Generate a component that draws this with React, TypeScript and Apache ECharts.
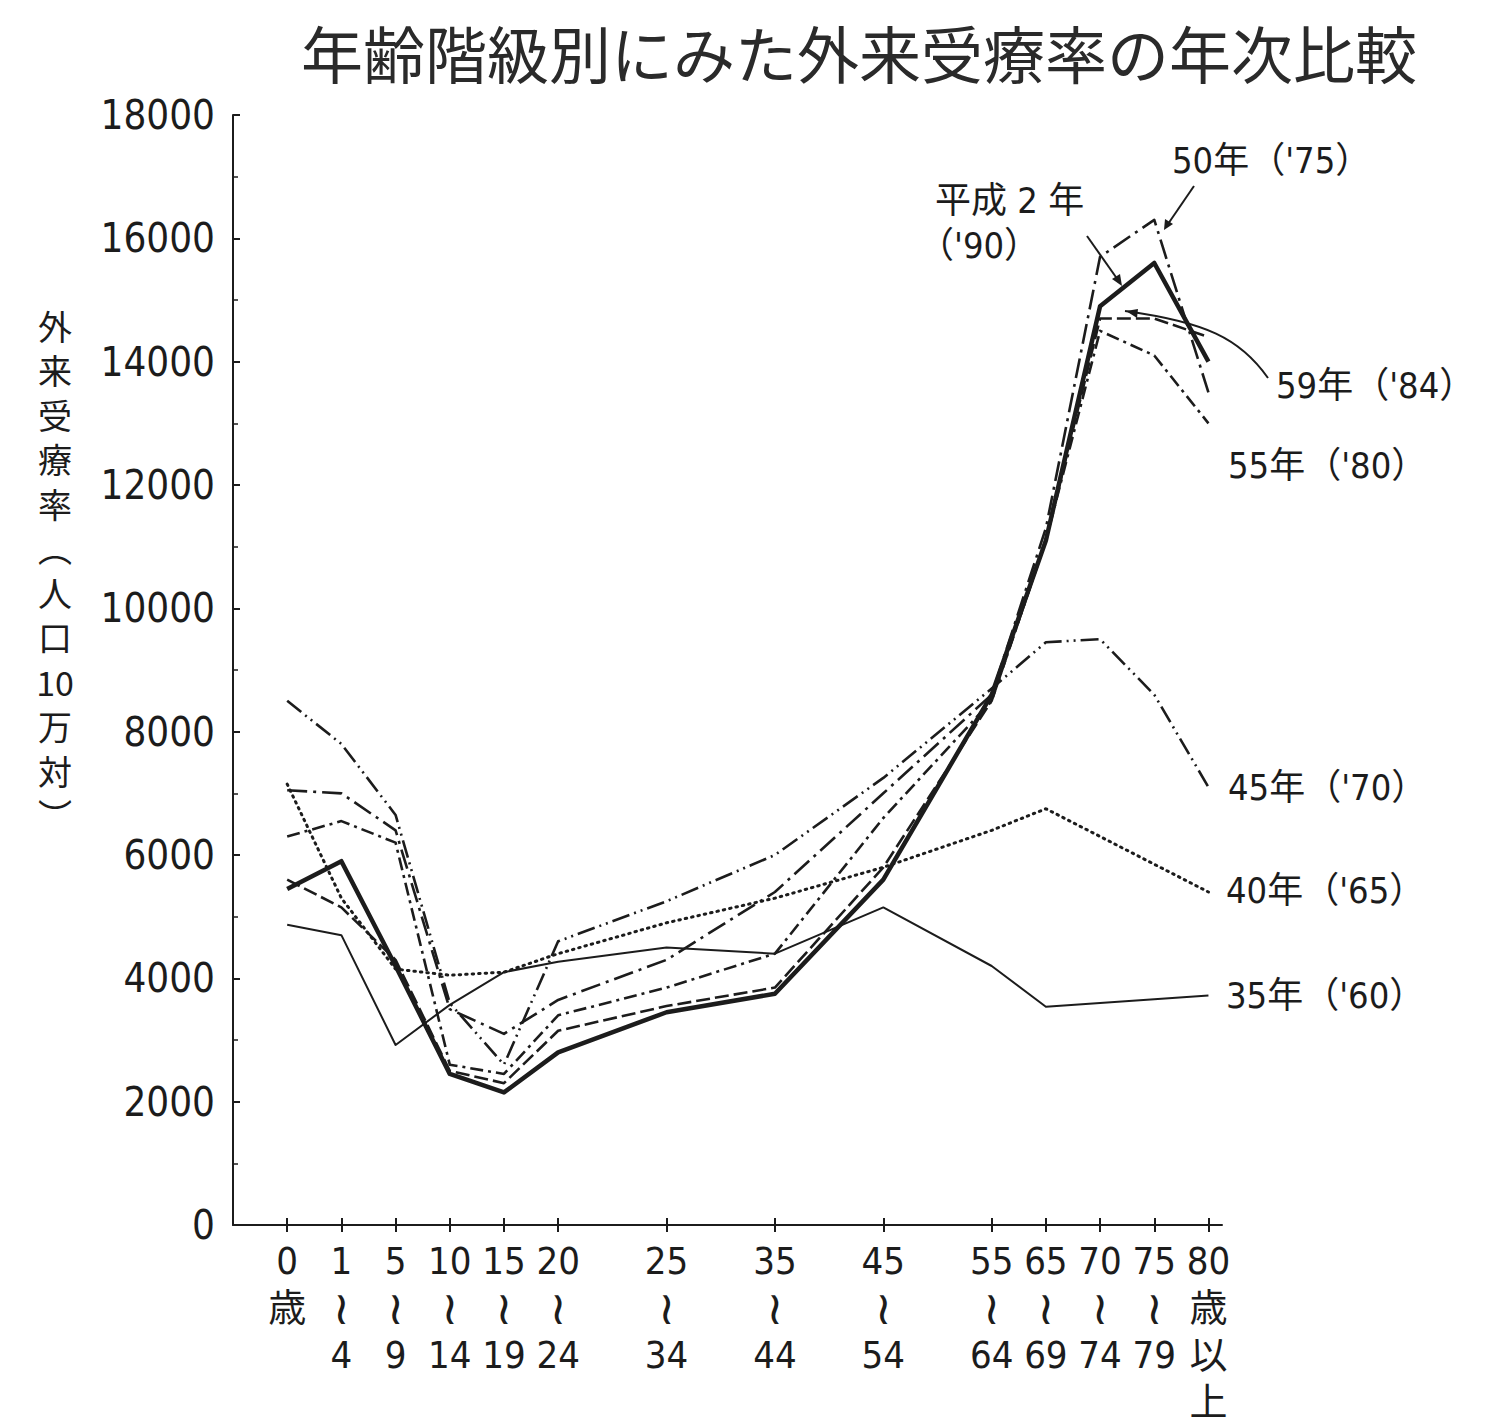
import React, { useEffect, useRef } from 'react';
import * as echarts from 'echarts';

// x positions (in age-group units) and their labels
const agePositions = [0, 1, 2, 3, 4, 5, 7, 9, 11, 13, 14, 15, 16, 17];
const ageLabels = [
  '0\n歳', '1\n≀\n4', '5\n≀\n9', '10\n≀\n14', '15\n≀\n19', '20\n≀\n24',
  '25\n≀\n34', '35\n≀\n44', '45\n≀\n54', '55\n≀\n64', '65\n≀\n69',
  '70\n≀\n74', '75\n≀\n79', '80\n歳\n以\n上',
];

// outpatient rates per 100,000 population
const s1960 = [4870, 4700, 2920, 3570, 4100, 4270, 4500, 4400, 5150, 4200, 3540, 3600, 3660, 3720];
const s1965 = [7150, 5300, 4150, 4050, 4100, 4400, 4900, 5300, 5800, 6400, 6750, 6300, 5850, 5400];
const s1970 = [8500, 7800, 6650, 3600, 2600, 4600, 5250, 6000, 7250, 8700, 9450, 9500, 8600, 7100];
const s1975 = [7050, 7000, 6400, 3500, 3100, 3650, 4300, 5400, 7000, 8600, 11300, 15700, 16300, 13500];
const s1980 = [6300, 6550, 6200, 2600, 2450, 3400, 3850, 4400, 6600, 8500, 11100, 14500, 14100, 13000];
const s1984 = [5600, 5150, 4300, 2500, 2300, 3150, 3550, 3850, 5800, 8500, 11100, 14700, 14700, 14400];
const s1990 = [5450, 5900, 4200, 2450, 2150, 2800, 3450, 3750, 5600, 8600, 11100, 14900, 15600, 14000];

const seriesNames = ['35年(\'60)', '40年(\'65)', '45年(\'70)', '50年(\'75)', '55年(\'80)', '59年(\'84)', '平成2年(\'90)'];

const yMin = 0;
const yMax = 18000;
const yStep = 2000;

const NUM_FONT = "'Liberation Sans Narrow', 'DejaVu Sans Condensed', 'Noto Sans CJK JP', sans-serif";
const CJK_FONT = "'Noto Sans CJK JP', sans-serif";
const INK = '#1c1c1c';

export default function App() {
  const ref = useRef<HTMLDivElement>(null);

  useEffect(() => {
    const chart = echarts.init(ref.current!, null, { renderer: 'svg' });
    const mk = (vals: number[]) => agePositions.map((p, i) => [p, vals[i]]);
    const labelFor = (v: number) => {
      const i = agePositions.findIndex((p) => Math.abs(p - v) < 1e-6);
      if (i < 0) return '';
      return ageLabels[i]
        .split('\n')
        .map((part) => (part === '≀' ? '{w|≀}' : '{n|' + part + '}'))
        .join('\n');
    };

    const line = (name: string, data: number[], width: number, type: any, z: number) => ({
      name,
      type: 'line',
      data: mk(data),
      showSymbol: false,
      symbol: 'none',
      z,
      lineStyle: { color: INK, width, type, cap: 'butt', join: 'round' },
      emphasis: { disabled: true },
    });

    const annoText = (text: string, x: number, y: number) => ({
      type: 'text',
      x,
      y,
      style: {
        text,
        fill: INK,
        font: `36px ${NUM_FONT}`,
        verticalAlign: 'middle',
        align: 'left',
      },
    });

    chart.setOption({
      animation: false,
      backgroundColor: '#ffffff',
      title: {
        text: '年齢階級別にみた外来受療率の年次比較',
        left: 296,
        top: 16,
        textStyle: { fontSize: 62, fontWeight: 'normal', color: '#2a2a2a', fontFamily: CJK_FONT },
      },
      grid: { left: 233, right: 284, top: 115, bottom: 199, containLabel: false },
      xAxis: [
        {
          type: 'value',
          min: -1,
          max: 17.25,
          splitLine: { show: false },
          axisLine: { show: true, onZero: false, lineStyle: { color: INK, width: 2 } },
          axisTick: { show: true, customValues: agePositions, length: 7, lineStyle: { color: INK, width: 2 } },
          axisLabel: {
            customValues: agePositions,
            formatter: (v: number) => labelFor(v),
            margin: 12,
            color: INK,
            rich: {
              n: { fontSize: 38, lineHeight: 47, fontFamily: NUM_FONT, color: INK },
              w: { fontSize: 46, lineHeight: 47, fontFamily: "'DejaVu Sans', sans-serif", color: INK },
            },
          },
        },
        {
          type: 'value',
          min: -1,
          max: 17.25,
          position: 'bottom',
          splitLine: { show: false },
          axisLine: { show: false, onZero: false },
          axisTick: { show: true, inside: true, customValues: agePositions, length: 7, lineStyle: { color: INK, width: 2 } },
          axisLabel: { show: false },
        },
      ],
      yAxis: {
        type: 'value',
        min: yMin,
        max: yMax,
        interval: yStep,
        splitLine: { show: false },
        axisLine: { show: true, onZero: false, lineStyle: { color: INK, width: 2 } },
        axisTick: { show: true, inside: true, length: 7, lineStyle: { color: INK, width: 2 } },
        minorTick: { show: true, splitNumber: 2, length: 5, lineStyle: { color: INK, width: 1.5 } },
        axisLabel: {
          fontSize: 40,
          margin: 18,
          color: INK,
          fontFamily: NUM_FONT,
          formatter: (v: number) => String(v),
        },
      },
      series: [
        line(seriesNames[0], s1960, 2, 'solid', 2),
        { ...line(seriesNames[1], s1965, 3, [1.5, 5], 2), lineStyle: { color: INK, width: 3, type: [1.5, 5], cap: 'round' } },
        line(seriesNames[2], s1970, 2.6, [18, 5, 2, 5, 2, 5], 3),
        line(seriesNames[3], s1975, 2.6, [20, 6, 3, 6], 3),
        line(seriesNames[4], s1980, 2.6, [13, 5, 3, 5], 3),
        line(seriesNames[5], s1984, 2.6, [14, 5], 3),
        line(seriesNames[6], s1990, 4.5, 'solid', 5),
      ],
      graphic: [
        {
          type: 'text',
          x: 55,
          y: 303,
          style: {
            text: '外\n来\n受\n療\n率\n︵\n人\n口\n10\n万\n対\n︶',
            fill: INK,
            font: `34px ${CJK_FONT}`,
            lineHeight: 44.5,
            align: 'center',
            verticalAlign: 'top',
          },
        },
        annoText('50年（\'75）', 1172, 160),
        annoText('平成 2 年', 935, 200),
        annoText('（\'90）', 918, 245),
        annoText('59年（\'84）', 1276, 385),
        annoText('55年（\'80）', 1228, 465),
        annoText('45年（\'70）', 1228, 787),
        annoText('40年（\'65）', 1226, 890),
        annoText('35年（\'60）', 1226, 995),
        // leader lines
        { type: 'line', shape: { x1: 1194, y1: 186, x2: 1168, y2: 224 }, style: { stroke: INK, lineWidth: 2 } },
        { type: 'polygon', shape: { points: [[1164, 230], [1165, 219], [1173, 224]] }, style: { fill: INK } },
        { type: 'line', shape: { x1: 1087, y1: 236, x2: 1118, y2: 280 }, style: { stroke: INK, lineWidth: 2 } },
        { type: 'polygon', shape: { points: [[1122, 286], [1112, 279], [1120, 274]] }, style: { fill: INK } },
        {
          type: 'bezierCurve',
          shape: { x1: 1125, y1: 311, cpx1: 1205, cpy1: 322, cpx2: 1240, cpy2: 338, x2: 1268, y2: 378 },
          style: { stroke: INK, lineWidth: 2, fill: 'none' },
        },
        { type: 'polygon', shape: { points: [[1126, 311], [1138, 309], [1137, 318]] }, style: { fill: INK } },
      ],
    });

    return () => chart.dispose();
  }, []);

  return (
    <div
      ref={ref}
      style={{ position: 'fixed', left: 0, top: 0, width: 1506, height: 1424, background: '#fff' }}
    />
  );
}
